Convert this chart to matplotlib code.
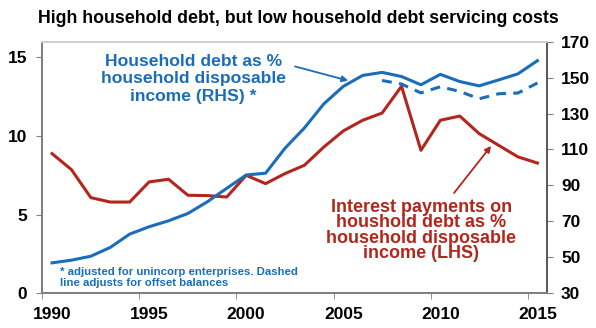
import numpy as np
import matplotlib
matplotlib.use("Agg")
import matplotlib.pyplot as plt

# Household debt vs interest payments, % of household disposable income
years = list(range(1990, 2016))

debt_ratio = [46.9, 48.4, 50.6, 55.5, 62.9, 67.0, 70.3, 74.4, 80.9, 88.4,
              95.8, 96.8, 110.7, 122.0, 135.4, 145.1, 151.2, 152.9, 150.6, 146.0,
              151.8, 147.8, 145.4, 148.7, 152.1, 159.4]

offset_years = list(range(2007, 2016))
debt_ratio_offset = [148.4, 146.4, 141.5, 144.9, 142.3, 138.2, 141.0, 141.4, 147.0]

interest_ratio = [8.88, 7.86, 6.08, 5.80, 5.80, 7.08, 7.25, 6.23, 6.21, 6.12,
                  7.50, 6.97, 7.61, 8.14, 9.30, 10.32, 11.0, 11.46, 13.16, 9.09,
                  11.0, 11.27, 10.15, 9.41, 8.67, 8.28]

label_years = [1990, 1995, 2000, 2005, 2010, 2015]
left_ticks = [0, 5, 10, 15]
right_ticks = [30, 50, 70, 90, 110, 130, 150, 170]

BLUE = "#1a6dba"
RED = "#b3261c"
GREY = "#7f7f7f"

plt.rcParams["font.family"] = ["Liberation Sans", "DejaVu Sans"]
plt.rcParams["font.weight"] = "bold"

fig = plt.figure(figsize=(5.96, 3.28), dpi=100)
ax = fig.add_axes([0.071, 0.106, 0.847, 0.767])
ax2 = ax.twinx()

ax.plot(years, interest_ratio, color=RED, lw=2.2)
ax2.plot(years, debt_ratio, color=BLUE, lw=2.2)
ax2.plot(offset_years, debt_ratio_offset, color=BLUE, lw=2.2,
         linestyle=(0, (3.2, 2.4)))

ax.set_xlim(1989.5, 2015.5)
ax.set_ylim(0, 16)
ax2.set_ylim(30, 170)

ax.set_yticks(left_ticks)
ax2.set_yticks(right_ticks)
ax.set_xticks(label_years)
ax.set_xticks([y - 0.5 for y in label_years], minor=True)

ax.tick_params(axis="x", which="major", length=0, pad=10, labelsize=12.5)
ax.tick_params(axis="x", which="minor", length=4, color=GREY, direction="out")
ax.tick_params(axis="y", length=4, color=GREY, direction="out", pad=7,
               labelsize=12.5)
ax2.tick_params(axis="y", length=4, color=GREY, direction="out", pad=6,
                labelsize=12.5)

for a in (ax, ax2):
    a.spines["left"].set_color(GREY)
    a.spines["right"].set_color("#5a5a5a")
    a.spines["bottom"].set_color(GREY)
    a.spines["top"].set_color("#cfcfcf")
    for s in a.spines.values():
        s.set_linewidth(1.3)

fig.text(0.5, 0.944, "High household debt, but low household debt servicing costs",
         ha="center", va="center", fontsize=12.8, fontweight="bold")

ax2.text(0.2996, 0.852, "Household debt as %\nhousehold disposable\nincome (RHS) *",
         transform=ax2.transAxes, ha="center", va="center", fontsize=12.6,
         color=BLUE, fontweight="bold", linespacing=1.22)
ax2.annotate("", xy=(0.606, 0.845), xycoords="axes fraction",
             xytext=(0.5007, 0.9014), textcoords="axes fraction",
             arrowprops=dict(arrowstyle="-|>", color=BLUE, lw=1.3,
                             mutation_scale=9, shrinkA=0, shrinkB=0))

ax2.text(0.7503, 0.2496,
         "Interest payments on\nhoushold debt as %\nhousehold disposable\nincome (LHS)",
         transform=ax2.transAxes, ha="center", va="center", fontsize=13,
         color=RED, fontweight="bold", linespacing=0.87)
ax2.annotate("", xy=(0.889, 0.5855), xycoords="axes fraction",
             xytext=(0.8157, 0.3986), textcoords="axes fraction",
             arrowprops=dict(arrowstyle="-|>", color=RED, lw=1.3,
                             mutation_scale=9, shrinkA=0, shrinkB=0))

ax2.text(0.0351, 0.0616,
         "* adjusted for unincorp enterprises. Dashed\nline adjusts for offset balances",
         transform=ax2.transAxes, ha="left", va="center", fontsize=8.2,
         color=BLUE, fontweight="bold", linespacing=1.1)

fig.savefig("out.png", dpi=100)
